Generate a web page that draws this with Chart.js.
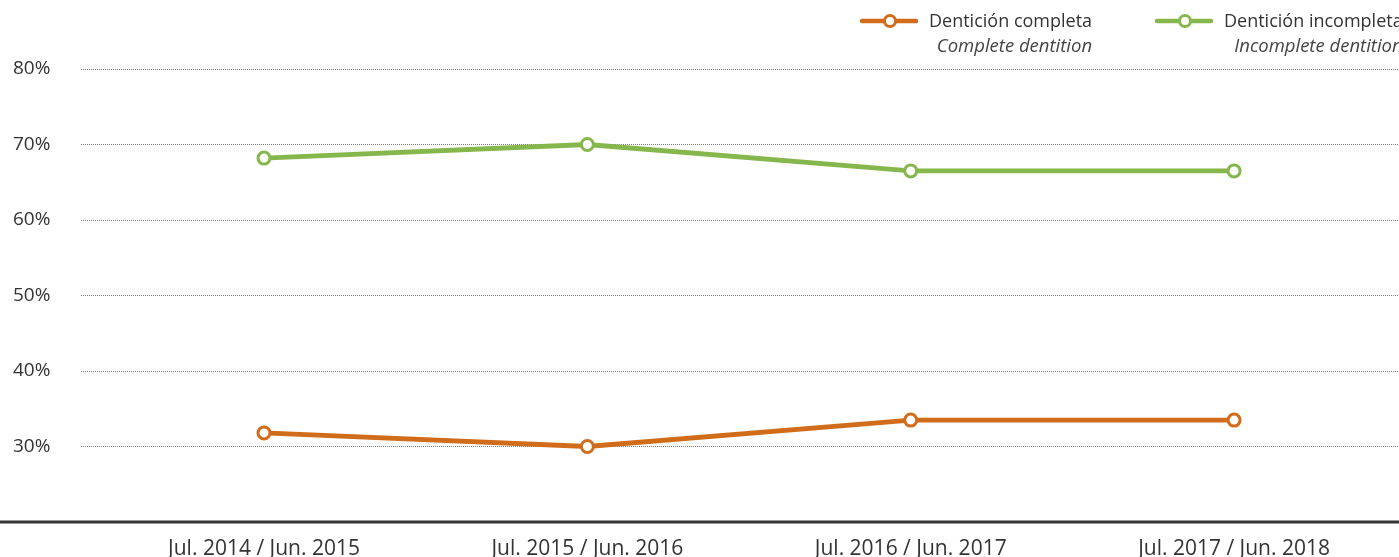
<!DOCTYPE html>
<html>
<head>
<meta charset="utf-8">
<script src="https://cdn.jsdelivr.net/npm/chart.js@4.4.1/dist/chart.umd.min.js"></script>
<style>
  html, body { margin: 0; padding: 0; background: #fff; }
  #wrap { position: relative; width: 1399px; height: 557px; overflow: hidden; font-family: "Open Sans", "Noto Sans", sans-serif; color: #333; }
  canvas { position: absolute; left: 0; top: 0; }
  .leg { position: absolute; top: 8px; white-space: nowrap; }
  .leg .icon { position: absolute; left: 0; top: 6px; width: 58px; height: 14px; }
  .leg .txt { position: absolute; left: 69px; top: 0; display: flex; flex-direction: column; align-items: flex-end; }
  .leg .t1 { font-size: 18px; line-height: 25px; color: #333; align-self: flex-start; }
  .leg .t2 { font-size: 18.5px; line-height: 24px; font-style: italic; color: #444; }
</style>
</head>
<body>
<div id="wrap">
  <canvas id="c" width="1399" height="557"></canvas>
</div>
<script>
const periods = ["Jul. 2014 / Jun. 2015", "Jul. 2015 / Jun. 2016", "Jul. 2016 / Jun. 2017", "Jul. 2017 / Jun. 2018"];
const seriesNamesEs = ["Dentición completa", "Dentición incompleta"];
const seriesNamesEn = ["Complete dentition", "Incomplete dentition"];
const completeDentition = [31.8, 30.0, 33.5, 33.5];
const incompleteDentition = [68.2, 70.0, 66.5, 66.5];
const yTicks = [20, 30, 40, 50, 60, 70, 80];
const colors = ["#D06C1A", "#86B74C"];

const seriesValues = [completeDentition, incompleteDentition];

// HTML legend (two-line labels)
const wrap = document.getElementById('wrap');
const legendX = [860, 1155];
seriesNamesEs.forEach((name, i) => {
  const d = document.createElement('div');
  d.className = 'leg';
  d.style.left = legendX[i] + 'px';
  d.innerHTML =
    `<svg class="icon" viewBox="0 0 58 14"><line x1="2" y1="7" x2="56" y2="7" stroke="${colors[i]}" stroke-width="4.5" stroke-linecap="round"/><circle cx="30" cy="7" r="5.5" fill="#fff" stroke="${colors[i]}" stroke-width="3"/></svg>` +
    `<div class="txt"><div class="t1">${name}</div><div class="t2">${seriesNamesEn[i]}</div></div>`;
  wrap.appendChild(d);
});

const axisLine = {
  id: 'axisLine',
  afterDraw(chart) {
    const ctx = chart.ctx;
    const y = chart.scales.y.getPixelForValue(yTicks[0]);
    ctx.save();
    ctx.strokeStyle = '#333';
    ctx.lineWidth = 3;
    ctx.beginPath();
    ctx.moveTo(0, y);
    ctx.lineTo(chart.width, y);
    ctx.stroke();
    ctx.restore();
  }
};

new Chart(document.getElementById('c'), {
  type: 'line',
  data: {
    datasets: seriesValues.map((vals, i) => ({
      label: seriesNamesEs[i],
      data: vals.map((v, k) => ({ x: k, y: v })),
      borderColor: colors[i],
      backgroundColor: '#fff',
      borderWidth: 4.8,
      pointRadius: 6,
      pointBorderWidth: 3,
      pointBackgroundColor: '#fff',
      pointBorderColor: colors[i],
      tension: 0,
      fill: false,
      clip: false
    }))
  },
  options: {
    responsive: false,
    animation: false,
    layout: { autoPadding: false, padding: { left: 13, right: 0, top: 69, bottom: 0 } },
    plugins: { legend: { display: false }, tooltip: { enabled: false } },
    scales: {
      x: {
        type: 'linear',
        min: -0.566,
        max: 3.51,
        afterBuildTicks(scale) { scale.ticks = periods.map((_, i) => ({ value: i })); },
        afterFit(scale) { scale.height = 35; scale.paddingLeft = 0; scale.paddingRight = 0; },
        grid: { display: false, drawTicks: false },
        border: { display: false },
        ticks: {
          autoSkip: false,
          maxRotation: 0,
          padding: 14,
          color: '#333',
          font: { family: '"Open Sans", "Noto Sans", sans-serif', size: 21 },
          callback: (v) => periods[v] ?? ''
        }
      },
      y: {
        min: yTicks[0],
        max: yTicks[yTicks.length - 1],
        afterBuildTicks(scale) { scale.ticks = yTicks.map(v => ({ value: v })); },
        afterFit(scale) { scale.width = 68; scale.paddingTop = 0; scale.paddingBottom = 0; },
        grid: {
          color: (ctx) => ctx.tick && ctx.tick.value === yTicks[0] ? 'rgba(0,0,0,0)' : '#777',
          lineWidth: 1,
          drawTicks: false
        },
        border: { display: false, dash: [1, 1] },
        ticks: {
          crossAlign: 'far',
          padding: 0,
          color: '#333',
          font: { family: '"Open Sans", "Noto Sans", sans-serif', size: 19 },
          callback: (v) => v === yTicks[0] ? '' : v + '%'
        }
      }
    }
  },
  plugins: [axisLine]
});
</script>
</body>
</html>
